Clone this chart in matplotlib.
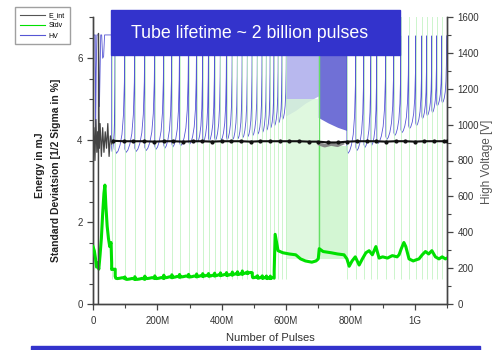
import numpy as np
import matplotlib
matplotlib.use('Agg')
from matplotlib import pyplot as plt
from matplotlib.lines import Line2D
from matplotlib.patches import Rectangle
from matplotlib.ticker import MultipleLocator, FixedLocator


# --- data (x in million pulses) ---

# HV start-up phase
hv0_x = [0, 2, 3, 5, 7, 8, 10, 12, 14, 17, 20, 24, 27, 30, 33, 36, 40, 45, 50, 55, 58]
hv0_y = [870, 1150, 1500, 1500, 1500, 900, 1300, 1500, 1500, 1500, 1100, 1500, 1500, 1370, 1380,
         1500, 1500, 1500, 1500, 1500, 1500]

# HV refill drops (left part) with voltage right after the drop and just before it
hv_drop_a = [58, 69, 99, 130, 161, 192, 220, 245, 269, 297, 322, 341, 359, 378, 396, 415, 433,
             449, 464, 480, 495, 511, 526, 539, 551, 563, 576, 588, 601]
hv_trough_a = [850, 840, 845, 850, 855, 862, 868, 875, 882, 890, 898, 904, 908, 911, 913, 915,
               918, 922, 928, 934, 940, 948, 958, 970, 982, 995, 1010, 1030, 1050]
hv_peak_a = [1500, 1500, 1500, 1500, 1500, 1500, 1500, 1500, 1500, 1500, 1500, 1500, 1500, 1500,
             1500, 1500, 1500, 1500, 1500, 1500, 1500, 1500, 1500, 1500, 1500, 1500, 1500, 1500, 1500]

# HV refill drops (right part)
hv_drop_b = [789, 817, 842, 864, 882, 910, 935, 957, 981, 1003, 1022, 1037, 1053, 1068, 1084, 1099]
hv_trough_b = [840, 855, 872, 885, 894, 917, 939, 955, 978, 994, 1033, 1050, 1067, 1105, 1122, 1135]
hv_peak_b = [1480, 1495, 1495, 1490, 1495, 1495, 1495, 1495, 1495, 1495, 1495, 1495, 1495, 1495,
             1495, 1495]

# shape of one HV cycle (fraction of cycle, fraction of rise)
hv_shape_t = [0, 0.12, 0.3, 0.5, 0.7, 0.85, 0.95, 1.0]
hv_shape_v = [0.03, 0, 0.02, 0.07, 0.16, 0.32, 0.6, 1.0]

# dense HV region (envelopes)
hv_light_x = [601, 630, 660, 700]
hv_light_lo = [1050, 1080, 1120, 1160]
hv_light_hi = [1500, 1500, 1500, 1500]
hv_dark_x = [700, 730, 760, 789]
hv_dark_lo = [1040, 1010, 985, 967]
hv_dark_hi = [1475, 1475, 1475, 1475]

# Stdv start-up
st0_x = [0, 4, 8, 11, 14, 18, 22, 26, 30, 34, 37, 40, 44, 48, 52, 56, 58]
st0_y = [1.4, 1.3, 1.1, 0.9, 1.0, 0.85, 1.2, 1.6, 2.2, 2.7, 2.9, 2.4, 1.9, 1.6, 1.4, 1.5, 1.0]

# Stdv minimum in each cycle (cycles between hv_drop_a entries up to 563M)
st_min = [0.85, 0.62, 0.6, 0.6, 0.62, 0.62, 0.64, 0.65, 0.66, 0.66, 0.67, 0.68, 0.68, 0.69, 0.7,
          0.7, 0.72, 0.72, 0.74, 0.76, 0.64, 0.63, 0.63, 0.62, 0.63]
st_shape_t = [0, 0.06, 0.2, 0.45, 0.75, 1.0]
st_shape_v = [0.3, 0.05, 0.0, 0.04, 0.12, 0.0]

# Stdv after 563M
st2_x = [563, 566, 575, 590, 610, 630, 645, 660, 680, 693, 700, 703, 715, 740, 760, 780, 789, 796,
         805, 815, 827, 837, 848, 858, 868, 879, 889, 900, 915, 930, 945, 951, 958, 966, 972, 982,
         995, 1005, 1013, 1023, 1033, 1043, 1053, 1064, 1075, 1085, 1095, 1100]
st2_y = [0.8, 1.7, 1.3, 1.25, 1.22, 1.2, 1.1, 1.05, 1.02, 1.05, 1.1, 1.35, 1.28, 1.25, 1.22, 1.2,
         1.1, 0.92, 1.05, 1.15, 0.95, 1.1, 1.25, 1.3, 1.2, 1.4, 1.12, 1.15, 1.12, 1.18, 1.15, 1.2,
         1.35, 1.5, 1.4, 1.1, 1.05, 1.08, 1.1, 1.2, 1.28, 1.22, 1.3, 1.15, 1.1, 1.15, 1.1, 1.12]

# dense Stdv region
st_light_x = [601, 700]
st_light_hi = [5.0, 5.0]
st_dark_x = [700, 789]
st_dark_hi = [3.85, 3.85]
st_extra_spike = [703]

# E_int
e0_x = [0, 3, 6, 9, 12, 15, 17, 17, 17, 19, 22, 26, 30, 34, 38, 42, 46, 50, 54, 58, 62]
e0_y = [3.9, 4.3, 3.5, 4.5, 3.7, 4.2, 4.0, 0.0, 6.6, 3.8, 4.4, 3.6, 4.3, 3.7, 4.2, 3.8, 4.4, 3.6,
        4.1, 3.9, 3.98]
e1_x = [62, 95, 125, 160, 190, 220, 250, 280, 310, 340, 370, 400, 430, 460, 490, 520, 550, 580,
        610, 640, 670, 700, 730, 760, 790, 820, 850, 880, 910, 940, 970, 1000, 1030, 1060, 1090, 1100]
e1_y = [3.98, 3.97, 3.97, 3.97, 3.96, 3.97, 3.97, 3.96, 3.97, 3.97, 3.96, 3.97, 3.97, 3.97, 3.96,
        3.97, 3.97, 3.97, 3.97, 3.97, 3.96, 3.96, 3.94, 3.94, 3.96, 3.97, 3.97, 3.97, 3.96, 3.97,
        3.97, 3.96, 3.97, 3.97, 3.97, 3.97]
e_smudge_x = [705, 720, 740, 760, 775]
e_smudge_y = [3.9, 3.86, 3.9, 3.87, 3.92]

x_ticks = [0, 200, 400, 600, 800, 1000]
x_labels = ['0', '200M', '400M', '600M', '800M', '1G']


def build_cycles(drops, troughs, peaks, shape_t, shape_v):
    xs, ys = [], []
    for i in range(len(drops) - 1):
        x0, x1 = drops[i], drops[i + 1]
        for t, v in zip(shape_t, shape_v):
            xs.append(x0 + t * (x1 - x0))
            ys.append(troughs[i] + v * (peaks[i + 1] - troughs[i]))
    return xs, ys


# --- figure ---
plt.rcParams['font.family'] = ['Liberation Sans', 'DejaVu Sans']

BLUE = '#5656d4'
GREEN = '#00e000'
BOX = '#3333cc'

fig = plt.figure(figsize=(5.02, 3.5), dpi=100)
ax = fig.add_axes([93 / 502, 1 - 304 / 350, (447 - 93) / 502, (304 - 17) / 350])
ax2 = ax.twinx()
ax.set_zorder(ax2.get_zorder() + 1)
ax.patch.set_visible(False)

# HV on right axis
hx_a, hy_a = build_cycles(hv_drop_a, hv_trough_a, hv_peak_a, hv_shape_t, hv_shape_v)
hx_b, hy_b = build_cycles(hv_drop_b, hv_trough_b, hv_peak_b, hv_shape_t, hv_shape_v)
ax2.plot(hv0_x + hx_a + [hv_drop_a[-1]], hv0_y + hy_a + [hv_trough_a[-1]], color=BLUE, lw=0.6)
ax2.fill_between(hv_light_x, hv_light_lo, hv_light_hi, color='#b8b8ee', lw=0)
ax2.fill_between(hv_dark_x, hv_dark_lo, hv_dark_hi, color='#7070d6', lw=0)
ax2.plot([hv_dark_x[-1]] + hx_b, [hv_dark_hi[-1]] + hy_b, color=BLUE, lw=0.6)

# Stdv on left axis
sx, sy = build_cycles(hv_drop_a[:len(st_min) + 1], st_min, [m + 0.2 for m in st_min] + [0.8],
                      st_shape_t, st_shape_v)
spike_pos = hv_drop_a + hv_drop_b[:-1]
ax.vlines(spike_pos, 0.6, 7.2, color='#c4f4c4', lw=0.6, zorder=1)
ax.vlines(st_extra_spike, 1.2, 7.2, color='#66e066', lw=1.0, zorder=1)
ax.fill_between(st_light_x, [1.1, 1.1], st_light_hi, color='#d8f7d8', alpha=0.8, lw=0, zorder=0.5)
ax.fill_between(st_dark_x, [1.1, 1.1], st_dark_hi, color='#c8f4c8', alpha=0.8, lw=0, zorder=0.5)
ax.plot(st0_x + sx + st2_x, st0_y + sy + st2_y, color=GREEN, lw=2.2, zorder=3)

# E_int
ax.plot(e0_x, e0_y, color='#444444', lw=0.9, zorder=4)
ax.plot(e_smudge_x, e_smudge_y, color='#888888', lw=2.5, zorder=4)
ax.plot(e1_x, e1_y, color='#111111', lw=1.5, marker='o', ms=2.0, zorder=5)

# axes styling
ax.set_xlim(0, 1100)
ax.set_ylim(0, 7)
ax2.set_ylim(0, 1600)
ax.xaxis.set_major_locator(FixedLocator(x_ticks))
ax.set_xticklabels(x_labels)
ax.xaxis.set_minor_locator(MultipleLocator(100))
ax.yaxis.set_major_locator(MultipleLocator(2))
ax.yaxis.set_minor_locator(MultipleLocator(0.5))
ax2.yaxis.set_major_locator(MultipleLocator(200))
ax2.yaxis.set_minor_locator(MultipleLocator(100))

for a in (ax, ax2):
    a.spines['top'].set_visible(False)
    for s in a.spines.values():
        s.set_color('#444444')
        s.set_linewidth(1.0)
    a.tick_params(which='major', direction='out', length=4, width=0.9, colors='#444444',
                  labelsize=7, labelcolor='#333333')
    a.tick_params(which='minor', direction='out', length=3, width=0.8, colors='#444444')
ax.tick_params(axis='x', pad=5)

ax.set_xlabel('Number of Pulses', fontsize=8, color='#333333', labelpad=5)
fig.text(40 / 502, 1 - 165 / 350, 'Energy in mJ', rotation=90, fontsize=7.5,
         fontweight='bold', ha='center', va='center', color='#222222')
fig.text(56 / 502, 1 - 170 / 350, 'Standard Deviatsion [1/2 Sigma in %]', rotation=90,
         fontsize=7.5, fontweight='bold', ha='center', va='center', color='#222222')
fig.text(487 / 502, 1 - 162 / 350, 'High Voltage [V]', rotation=90, fontsize=8.5,
         ha='center', va='center', color='#555555')

# legend
handles = [Line2D([], [], color='#555555', lw=0.8),
           Line2D([], [], color=GREEN, lw=0.8),
           Line2D([], [], color=BLUE, lw=0.8)]
fig.legend(handles, ['E_int', 'Stdv', 'HV'], loc='upper left',
           bbox_to_anchor=(12 / 502, 1 - 4 / 350), fontsize=5, frameon=True,
           fancybox=False, edgecolor='#888888', handlelength=3.5, borderpad=0.7,
           labelspacing=0.45, handletextpad=0.6)

# title box and bottom bar
fig.patches.append(Rectangle((111 / 502, 1 - 55 / 350), 289 / 502, 45 / 350,
                             transform=fig.transFigure, color=BOX, zorder=10))
fig.text(250 / 502, 1 - 33 / 350, 'Tube lifetime ~ 2 billion pulses', fontsize=12.8,
         color='white', ha='center', va='center', zorder=11)
fig.patches.append(Rectangle((31 / 502, 0), 449 / 502, 4 / 350,
                             transform=fig.transFigure, color=BOX, zorder=10))

fig.savefig('out.png', dpi=100)
